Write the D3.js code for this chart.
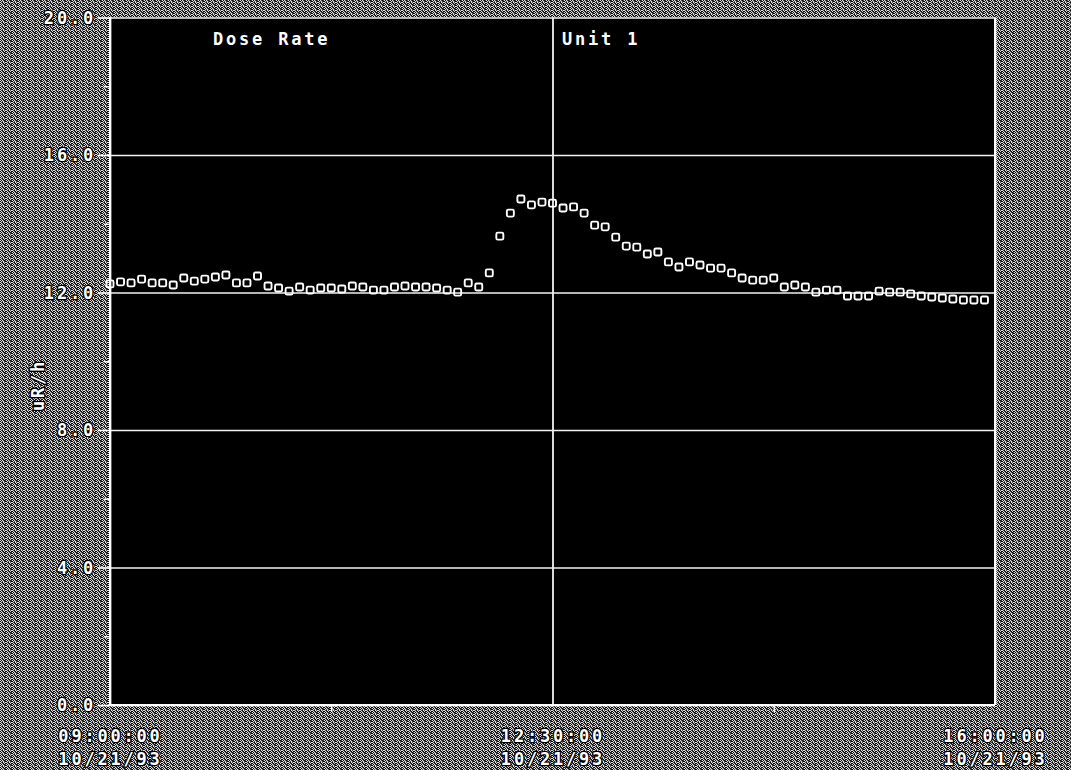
<!DOCTYPE html>
<html><head><meta charset="utf-8">
<script src="https://cdn.jsdelivr.net/npm/d3@7"></script>
<style>html,body{margin:0;padding:0;background:#808080;overflow:hidden}</style>
</head><body><svg id="c" width="1071" height="770"></svg>
<script>
// ---- data ----
const startTime = "1993-10-21T09:00:00";
const endTime = "1993-10-21T16:00:00";
const intervalMinutes = 5;
const doseRate = [
 12.25,12.31,12.28,12.39,12.28,12.28,12.22,12.42,12.33,12.39,
 12.45,12.51,12.28,12.28,12.48,12.19,12.13,12.04,12.16,12.07,
 12.13,12.13,12.10,12.19,12.16,12.07,12.07,12.16,12.19,12.16,
 12.16,12.13,12.07,12.01,12.28,12.16,12.57,13.64,14.31,14.72,
 14.55,14.63,14.60,14.46,14.49,14.31,13.96,13.91,13.61,13.35,
 13.32,13.12,13.18,12.89,12.74,12.89,12.80,12.71,12.71,12.57,
 12.42,12.36,12.36,12.42,12.16,12.22,12.16,12.01,12.07,12.07,
 11.90,11.90,11.90,12.04,12.01,12.01,11.96,11.90,11.87,11.84,
 11.81,11.78,11.78,11.78];
const yTicks = [0,4,8,12,16,20];
const yMinorTicks = [2,6,10,14,18];
const xTicks = ["1993-10-21T09:00:00","1993-10-21T12:30:00","1993-10-21T16:00:00"];
const xMinorTicks = ["1993-10-21T10:45:00","1993-10-21T14:15:00"];
const title = "Dose Rate";
const subtitle = "Unit 1";
const yLabel = "uR/h";

// ---- chart ----
const svg = d3.select("#c");
const W = 1071, H = 770;
const M = {left:110, right:1071-995, top:17.5, bottom:770-705};
const parse = d3.isoParse;
const x = d3.scaleTime().domain([parse(startTime), parse(endTime)]).range([M.left, W-M.right]);
const y = d3.scaleLinear().domain([0,20]).range([H-M.bottom, M.top]);
const pts = doseRate.map((v,i)=>({t:d3.timeMinute.offset(parse(startTime), i*intervalMinutes), v}));

// dithered background pattern
const defs = svg.append("defs");
const pat = defs.append("pattern").attr("id","dither").attr("patternUnits","userSpaceOnUse")
  .attr("width",6).attr("height",4);
pat.append("rect").attr("width",6).attr("height",4).attr("fill","#4a4a4a");
const whites = [[0,0],[2,0],[1,1],[3,1],[5,2],[0,2],[3,2],[1,3],[4,3]];
const blacks = [[1,0],[4,0],[0,1],[2,2],[5,1],[3,3],[0,3],[5,3]];
whites.forEach(([a,b])=>pat.append("rect").attr("x",a).attr("y",b).attr("width",1).attr("height",1).attr("fill","#dcdcdc"));
blacks.forEach(([a,b])=>pat.append("rect").attr("x",a).attr("y",b).attr("width",1).attr("height",1).attr("fill","#0a0a0a"));
svg.append("rect").attr("width",W).attr("height",H).attr("fill","url(#dither)");

// plot area
svg.append("rect").attr("x",M.left).attr("y",M.top)
  .attr("width",W-M.left-M.right).attr("height",H-M.top-M.bottom).attr("fill","#000");

// horizontal grid
const gGrid = svg.append("g").attr("transform",`translate(${M.left},0)`)
  .call(d3.axisLeft(y).tickValues(yTicks).tickSize(-(W-M.left-M.right)).tickFormat(""));
gGrid.select(".domain").remove();
gGrid.selectAll("line").attr("stroke","#f2f2f2").attr("stroke-width",1.6);
// vertical grid
const gVGrid = svg.append("g").attr("transform",`translate(0,${M.top})`)
  .call(d3.axisBottom(x).tickValues(xTicks.map(parse)).tickSize(H-M.top-M.bottom).tickFormat(""));
gVGrid.select(".domain").remove();
gVGrid.selectAll("line").attr("stroke","#f2f2f2").attr("stroke-width",1.8);

// border lines
svg.append("line").attr("x1",M.left).attr("x2",M.left).attr("y1",M.top).attr("y2",H-M.bottom).attr("stroke","#fff").attr("stroke-width",2);
svg.append("line").attr("x1",W-M.right).attr("x2",W-M.right).attr("y1",M.top).attr("y2",H-M.bottom).attr("stroke","#fff").attr("stroke-width",2);
svg.append("line").attr("x1",M.left).attr("x2",W-M.right).attr("y1",H-M.bottom).attr("y2",H-M.bottom).attr("stroke","#fff").attr("stroke-width",2.2);

const fontFam = "'DejaVu Sans Mono', 'Liberation Mono', monospace";
function styleText(sel){
  sel.attr("fill","#fff").attr("stroke","#000").attr("stroke-width",2.6)
    .attr("paint-order","stroke").attr("font-family",fontFam)
    .attr("font-weight","bold").attr("font-size",17).attr("letter-spacing",2.8);
}

// y axis labels
const gY = svg.append("g").attr("transform",`translate(${M.left},0)`)
  .call(d3.axisLeft(y).tickValues(yTicks).tickSize(12).tickPadding(2).tickFormat(d3.format(".1f")));
gY.select(".domain").remove();
gY.selectAll("line").attr("stroke","#fff").attr("stroke-width",1.6);
gY.selectAll("text").call(styleText).attr("dy","0.35em");
const gYm = svg.append("g").attr("transform",`translate(${M.left},0)`)
  .call(d3.axisLeft(y).tickValues(yMinorTicks).tickSize(6).tickFormat(""));
gYm.select(".domain").remove();
gYm.selectAll("line").attr("stroke","#fff").attr("stroke-width",1.4);

// x axis labels
const gX = svg.append("g").attr("transform",`translate(0,${H-M.bottom})`)
  .call(d3.axisBottom(x).tickValues(xTicks.map(parse)).tickSize(0).tickFormat(""));
gX.select(".domain").remove();
const fmtT = d3.timeFormat("%H:%M:%S"), fmtD = d3.timeFormat("%m/%d/%y");
gX.selectAll(".tick").each(function(d){
  const g = d3.select(this);
  g.append("text").attr("y",37).attr("text-anchor","middle").text(fmtT(d)).call(styleText);
  g.append("text").attr("y",60).attr("text-anchor","middle").text(fmtD(d)).call(styleText);
});
const gXm = svg.append("g").attr("transform",`translate(0,${H-M.bottom})`)
  .call(d3.axisBottom(x).tickValues(xMinorTicks.map(parse)).tickSize(7).tickFormat(""));
gXm.select(".domain").remove();
gXm.selectAll("line").attr("stroke","#fff").attr("stroke-width",1.4);

// titles
svg.append("text").attr("x",213).attr("y",45).text(title).call(styleText);
svg.append("text").attr("x",562).attr("y",45).text(subtitle).call(styleText);
svg.append("text").attr("transform","translate(44,385) rotate(-90)").attr("text-anchor","middle")
  .text(yLabel).call(styleText);

// data markers
const ms = 7;
svg.append("g").selectAll("rect").data(pts).join("rect")
  .attr("x",d=>x(d.t)-ms/2).attr("y",d=>y(d.v)-ms/2)
  .attr("width",ms).attr("height",ms).attr("rx",1.5)
  .attr("fill","none").attr("stroke","#fff").attr("stroke-width",1.9);
</script></body></html>
